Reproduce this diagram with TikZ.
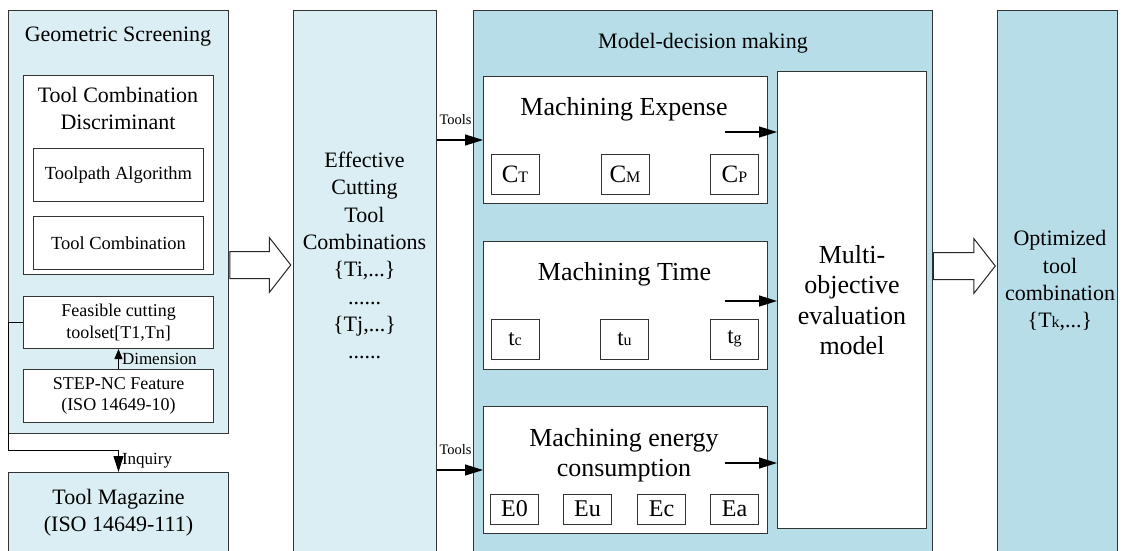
\documentclass[tikz,border=0pt]{standalone}
\usepackage{fontspec}
\setmainfont{Liberation Serif}
\usetikzlibrary{arrows.meta,shapes.arrows}
\definecolor{paleblue}{RGB}{218,238,243}
\definecolor{midblue}{RGB}{183,221,232}
\newcommand{\subtxt}[1]{{\fontsize{16}{16}\selectfont #1}}

\begin{document}
\begin{tikzpicture}[x=1pt, y=-1pt,
    panel/.style={draw=black!80, line width=1pt, fill=paleblue, anchor=north west, inner sep=0pt},
    darkpanel/.style={panel, fill=midblue},
    whitebox/.style={draw=black!80, line width=1pt, fill=white, anchor=north west, inner sep=0pt, align=center},
    itembox/.style={draw=black!80, line width=1pt, fill=white, inner sep=0pt, minimum width=48pt},
    bigtxt/.style={font=\fontsize{22}{27.3}\selectfont, align=center},
    midtxt/.style={font=\fontsize{18.5}{22}\selectfont, align=center},
    hugetxt/.style={font=\fontsize{26}{30.5}\selectfont, align=center},
    tinytxt/.style={font=\fontsize{14.5}{16}\selectfont, inner sep=2pt},
    link/.style={-{Triangle[length=18pt,width=11pt]}, line width=1.2pt},
    thinlink/.style={-{Triangle[length=10pt,width=8pt]}, line width=1pt},
    blockarrow/.style={single arrow, draw=black!85, line width=1pt, fill=white, inner sep=13pt,
        single arrow head extend=14pt, single arrow tip angle=104, minimum height=61pt}
]
    \useasboundingbox (0,0) rectangle (1125,550);
    \clip (0,0) rectangle (1125,550);

    % Geometric screening
    \node[panel, minimum width=220pt, minimum height=423pt] (geo) at (8,10) {};
    \node[bigtxt] (geotitle) at (118,37) {Geometric Screening};
    \node[whitebox, minimum width=190pt, minimum height=199pt] (disc) at (23,75) {};
    \node[bigtxt] (disctitle) at (118,108.5) {Tool Combination\\Discriminant};
    \node[whitebox, midtxt, minimum width=170pt, minimum height=53pt] (algo) at (33,148) {Toolpath Algorithm};
    \node[whitebox, midtxt, minimum width=170pt, minimum height=53pt] (comb) at (33,216) {Tool Combination};
    \node[whitebox, font=\fontsize{18}{21.5}\selectfont, minimum width=190pt, minimum height=52pt] (feas) at (23,296) {Feasible cutting\\toolset[T1,Tn]};
    \node[whitebox, font=\fontsize{18}{21.5}\selectfont, minimum width=190pt, minimum height=53pt] (stepnc) at (23,369) {STEP-NC Feature\\(ISO 14649-10)};

    % Tool magazine
    \node[panel, bigtxt, minimum width=220pt, minimum height=81pt] (mag) at (8,472) {Tool Magazine\\(ISO 14649-111)};

    % Effective combinations
    \node[panel, minimum width=143pt, minimum height=560pt] (eff) at (293,10) {};
    \node[bigtxt] (efftext) at (364.5,255.5) {Effective\\Cutting\\Tool\\Combinations\\\{Ti,...\}\\......\\\{Tj,...\}\\......};

    % Model-decision making
    \node[darkpanel, minimum width=459pt, minimum height=560pt] (model) at (473,10) {};
    \node[bigtxt] (modeltitle) at (703,43) {Model-decision making};

    \node[whitebox, minimum width=284pt, minimum height=127pt] (expense) at (483,76) {};
    \node[hugetxt] (expensetitle) at (624,109) {Machining Expense};
    \foreach \nm/\cx/\txt in {ct/515/C\subtxt{T}, cm/625/C\subtxt{M}, cp/734.5/C\subtxt{P}}
        \node[itembox, minimum height=40pt, font=\fontsize{25}{25}\selectfont] (\nm) at (\cx,174) {\txt};

    \node[whitebox, minimum width=284pt, minimum height=128pt] (time) at (483,241) {};
    \node[hugetxt] (timetitle) at (624.5,274) {Machining Time};
    \foreach \nm/\cx/\txt in {tc/515/t\subtxt{c}, tu/624.5/t\subtxt{u}, tg/734.5/t\subtxt{g}}
        \node[itembox, minimum height=40pt, font=\fontsize{23}{23}\selectfont] (\nm) at (\cx,339) {\txt};

    \node[whitebox, minimum width=284pt, minimum height=127pt] (energy) at (483,406) {};
    \node[hugetxt] (energytitle) at (624,455) {Machining energy\\consumption};
    \foreach \nm/\cx/\txt in {ezero/514.5/E0, eu/587.5/Eu, ec/661.5/Ec, ea/734.5/Ea}
        \node[itembox, minimum height=30pt, font=\fontsize{24}{24}\selectfont] (\nm) at (\cx,509) {\txt};

    \node[whitebox, hugetxt, minimum width=149pt, minimum height=457pt] (eval) at (777,71) {Multi-\\objective\\evaluation\\model};

    % Optimized result
    \node[darkpanel, minimum width=120pt, minimum height=560pt] (opt) at (997,10) {};
    \node[bigtxt] (opttext) at (1060,281) {Optimized\\tool\\combination\\\{T\subtxt{k},...\}};

    % Block arrows
    \node[blockarrow] (geo2eff) at (255,265) {};
    \node[blockarrow, minimum height=62pt] (model2opt) at (959,266) {};

    % Tools into the model
    \draw[link] (eff.east |- expense.west) -- (expense.west)
        node[pos=0, tinytxt, anchor=base west, yshift=16pt] {Tools};
    \draw[link] (eff.east |- energy.west) -- (energy.west)
        node[pos=0, tinytxt, anchor=base west, yshift=16pt] {Tools};

    % Criteria into the evaluation model
    \coordinate (expout) at (725,132);
    \coordinate (timeout) at (725,301);
    \coordinate (energyout) at (725,463);
    \draw[link] (expout) -- (expout -| eval.west);
    \draw[link] (timeout) -- (timeout -| eval.west);
    \draw[link] (energyout) -- (energyout -| eval.west);

    % Dimension and inquiry
    \draw[thinlink] (stepnc.north) -- (feas.south)
        node[midway, right, font=\fontsize{17}{17}\selectfont, inner sep=3pt] {Dimension};
    \draw[line width=1pt, -{Triangle[length=16pt,width=10pt]}]
        (feas.west) -- (feas.west -| geo.west) -- ([yshift=-16pt]geo.south west) -| (mag.north)
        node[pos=0.75, right, font=\fontsize{17}{17}\selectfont, inner sep=3pt] {Inquiry};
\end{tikzpicture}
\end{document}
